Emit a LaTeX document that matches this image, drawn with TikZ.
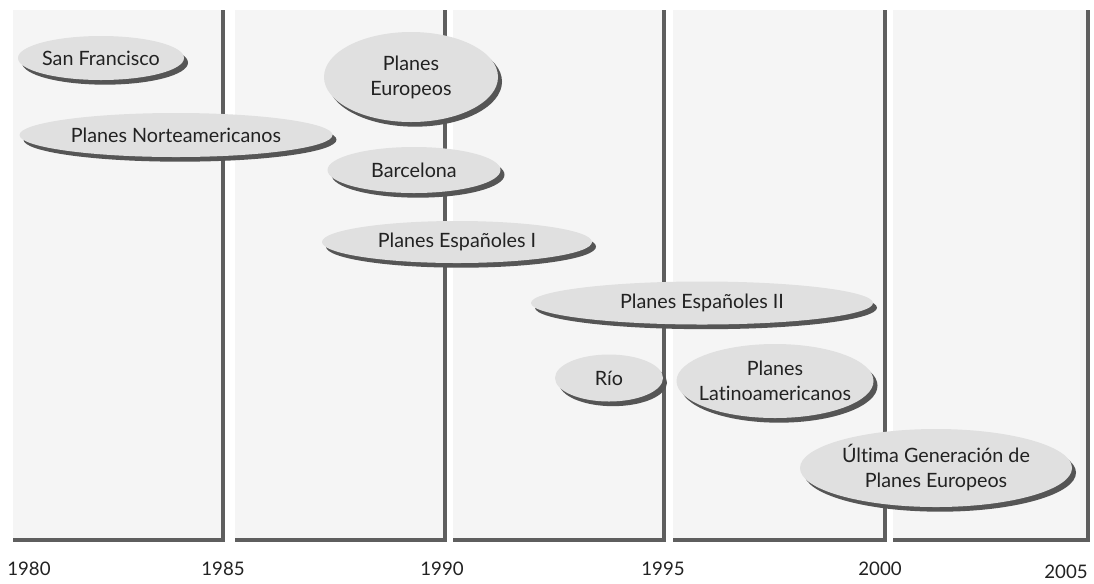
\documentclass[tikz,border=0pt]{standalone}
\usepackage{fontspec}
\setmainfont{Lato}[Ligatures=NoCommon]
\usetikzlibrary{shapes.geometric,shadows}
\definecolor{panelFill}{HTML}{F5F5F5}
\definecolor{panelEdge}{HTML}{5E5E5E}
\definecolor{ovalFill}{HTML}{E0E0E0}
\definecolor{ovalShade}{HTML}{555555}
\definecolor{inkColor}{HTML}{222222}
\tikzset{
  edge/.style={panelEdge, line width=2.6pt, line join=miter},
  ovalsize/.style 2 args={minimum width=#1*0.75pt, minimum height=#2*0.75pt},
  plan/.style={ellipse, fill=ovalFill, inner xsep=-25pt, inner ysep=-8pt, align=center,
    text=inkColor, font=\fontsize{14.8}{18.8}\selectfont,
    drop shadow={shadow xshift=3pt, shadow yshift=-3.5pt, fill=ovalShade, opacity=1}},
  year/.style={text=inkColor, font=\fontsize{14}{16}\selectfont},
}

\begin{document}
\begin{tikzpicture}[x=0.75pt,y=-0.75pt]
\useasboundingbox (0,0) rectangle (1094,583);
% the five lustres
\foreach \l/\r in {13/223,235/445,453/664,673/885,893/1088}{
  \fill[panelFill] (\l,10) rectangle (\r,540);
  \draw[edge] (\l,540) -- (\r,540) -- (\r,10);
}
\foreach \x/\yr in {29/1980,223/1985,442/1990,663/1995,880/2000}
  \node[year] (y\yr) at (\x,569) {\yr};
\node[year] (y2005) at (1066,572) {2005};

% plans
\node[plan,ovalsize={166}{44}] (sf) at (101,58) {San Francisco};
\node[plan,ovalsize={313}{44}] (norte) at (176,135) {Planes Norteamericanos};
\node[plan,ovalsize={174}{90}] (euro) at (411,77) {Planes\\Europeos};
\node[plan,ovalsize={173}{46}] (bcn) at (414,170) {Barcelona};
\node[plan,ovalsize={270}{42}] (esp1) at (457,242) {Planes Españoles I};
\node[plan,ovalsize={342}{43}] (esp2) at (702,303) {Planes Españoles II};
\node[plan,ovalsize={108}{47}] (rio) at (609,378) {Río};
\node[plan,ovalsize={197}{74}] (latam) at (775,381) {Planes\\Latinoamericanos};
\node[plan,ovalsize={272}{78}] (ultima) at (936,468) {Última Generación de\\Planes Europeos};
\end{tikzpicture}
\end{document}
